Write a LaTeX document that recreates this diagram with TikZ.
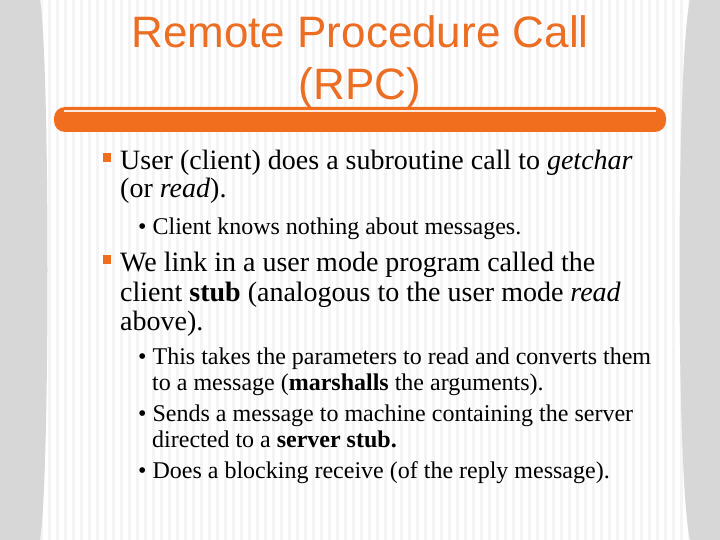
\documentclass[tikz,border=0pt]{standalone}
\usepackage{fontspec}
\setmainfont{Liberation Serif}
\newfontfamily\titlefont{Liberation Sans}
\definecolor{ttl}{RGB}{235,110,35}
\definecolor{bar}{RGB}{240,110,30}
\definecolor{colg}{RGB}{215,215,215}
\definecolor{strp}{RGB}{244,244,244}
\begin{document}
\begin{tikzpicture}[x=1pt,y=-1pt,
  ttl/.style={font=\titlefont\fontsize{44}{48}\selectfont,text=ttl,inner sep=0},
  lone/.style={anchor=base west,inner sep=0,font=\fontsize{28}{32}\selectfont},
  ltwo/.style={anchor=base west,inner sep=0,font=\fontsize{24}{28}\selectfont},
  sq/.style={fill=bar,draw=none}]
\useasboundingbox (0,0) rectangle (720,540);
\fill[white] (0,0) rectangle (720,540);
\foreach \i in {0,8,...,720} \fill[strp] (\i,0) rectangle (\i+3,540);
% side columns
\fill[colg] (0,0) -- (40,0) .. controls (50,60) and (50,480) .. (40,540) -- (0,540) -- cycle;
\fill[colg] (720,0) -- (690,0) .. controls (676,60) and (676,480) .. (690,540) -- (720,540) -- cycle;
% title
\node[ttl,anchor=base] (t1) at (360,48) {Remote Procedure Call};
\node[ttl,anchor=base] (t2) at (360,100) {(RPC)};
% bar
\fill[bar,rounded corners=11] (54,107) rectangle (666,132);
\draw[white!85!bar,line width=1.2] (64,111) -- (656,111);
% bullets
\fill[sq] (103,153) rectangle (111,162);
\node[lone] (a1) at (120,170) {User (client) does a subroutine call to \textit{getchar}};
\node[lone] (a2) at (120,198) {(or \textit{read}).};
\node[ltwo] (b1) at (138,235) {•\hspace{6pt}Client knows nothing about messages.};
\fill[sq] (103,255) rectangle (111,264);
\node[lone] (c1) at (120,271) {We link in a user mode program called the};
\node[lone] (c2) at (120,301) {client \textbf{stub} (analogous to the user mode \textit{read}};
\node[lone] (c3) at (120,330) {above).};
\node[ltwo] (d1) at (138,364) {•\hspace{6pt}This takes the parameters to read and converts them};
\node[ltwo] (d2) at (152,390) {to a message (\textbf{marshalls} the arguments).};
\node[ltwo] (d3) at (138,421) {•\hspace{6pt}Sends a message to machine containing the server};
\node[ltwo] (d4) at (152,447) {directed to a \textbf{server stub.}};
\node[ltwo] (d5) at (138,478) {•\hspace{6pt}Does a blocking receive (of the reply message).};
\end{tikzpicture}
\end{document}
